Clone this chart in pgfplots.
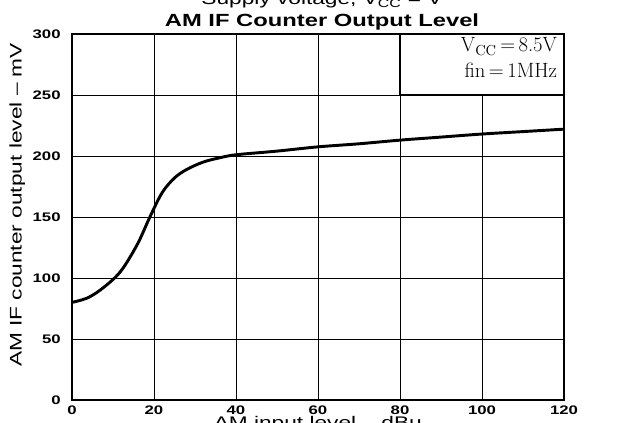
\documentclass[border=0pt]{standalone}
\usepackage{pgfplots}
\pgfplotsset{compat=1.18}
\usepackage{fontspec}
\newfontfamily\widesans[FakeStretch=1.35,Ligatures=TeX]{Liberation Sans}
\newcommand\tickfont{\widesans\bfseries\fontsize{9.3}{10}\selectfont}
\newcommand\labfont{\widesans\fontsize{12.6}{14}\selectfont}
\newcommand\titfont{\widesans\bfseries\fontsize{13.2}{15}\selectfont}
\begin{document}
\begin{tikzpicture}
\begin{axis}[
  name=ax, at={(0,0)}, anchor=south west,
  scale only axis, width=369pt, height=274.5pt,
  xmin=0, xmax=120, ymin=0, ymax=300,
  xtick={0,20,...,120}, ytick={0,50,...,300},
  grid=major, major grid style={black, line width=0.6pt},
  major tick length=0pt,
  axis line style={black, line width=1.1pt},
  /pgf/number format/assume math mode=true,
  ticklabel style={font=\tickfont},
  xticklabel style={yshift=-0.5pt},
  yticklabel style={xshift=-5pt},
]
\addplot[black, line width=2.2pt, smooth, tension=0.55] coordinates {
 (0,80) (4,84) (8,93) (12,106) (16,128) (19,150) (22,170) (25,182)
 (28,189) (32,195) (36,198.5) (40,201) (50,204)
 (60,207.5) (70,210) (80,213) (90,215.5) (100,218) (110,220) (120,222)
};
\fill[white] (axis cs:80,250) rectangle (axis cs:120,300);
\draw[black, line width=0.8pt] (axis cs:80,250) rectangle (axis cs:120,300);
\node[anchor=base east, inner sep=0pt, font=\fontsize{15.5}{19}\selectfont]
  at ([xshift=-5pt,yshift=-13.5pt]rel axis cs:1,1) {V\textsubscript{CC}\,=\,8.5V};
\node[anchor=base east, inner sep=0pt, font=\fontsize{15.5}{19}\selectfont]
  at ([xshift=-5pt,yshift=-33pt]rel axis cs:1,1) {fin\,=\,1MHz};
\end{axis}
\node[anchor=base, inner sep=0pt, font=\titfont] at ([xshift=3pt,yshift=5.25pt]ax.north) {AM IF Counter Output Level};
\node[anchor=base, inner sep=0pt, font=\labfont] at ([xshift=3pt,yshift=21.75pt]ax.north) {Supply voltage, V\textsubscript{CC} = V};
\node[rotate=90, anchor=center, inner sep=0pt, font=\labfont] at ([xshift=-41pt,yshift=9pt]ax.west) {AM IF counter output level \textendash{} mV};
\node[anchor=north, inner sep=0pt, font=\labfont] at ([yshift=-12pt]ax.south) {AM input level \textendash{} dB\textmu};
\pgfresetboundingbox
\useasboundingbox ([shift={(-54pt,-17.25pt)}]ax.south west) rectangle ++(479.25pt,317.25pt);
\end{tikzpicture}
\end{document}
